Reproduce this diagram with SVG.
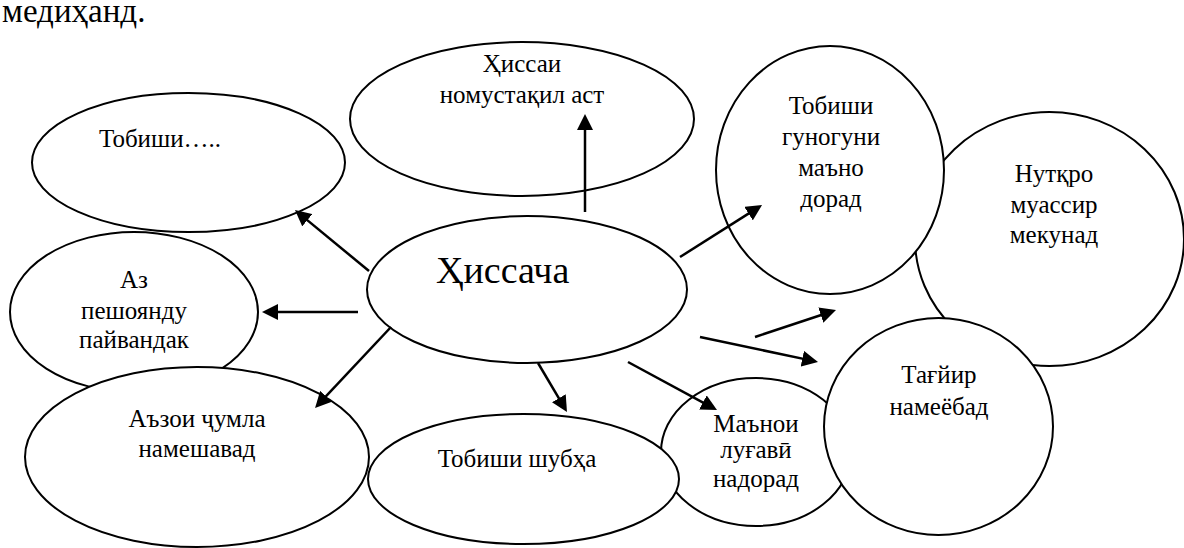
<svg xmlns="http://www.w3.org/2000/svg" width="1184" height="548" viewBox="0 0 1184 548">
<style>
.n{fill:#fff;stroke:#000;stroke-width:2}
text{font-family:"Liberation Serif","Times New Roman",serif;font-size:25px;fill:#000}
.m{text-anchor:middle}
.c line{stroke:#000;stroke-width:2.5;marker-end:url(#ah)}
</style>
<defs>
<marker id="ah" markerUnits="userSpaceOnUse" viewBox="0 0 16 16" markerWidth="16" markerHeight="16" refX="6" refY="8" orient="auto">
<path d="M0,0 L16,8 L0,16 z" fill="#000"/>
</marker>
</defs>
<rect width="1184" height="548" fill="#fff"/>
<text x="2" y="22" style="font-size:33px">медиҳанд.</text>
<g id="n-nutq"><ellipse class="n" cx="1049.5" cy="239" rx="134.5" ry="127"/><text class="m" x="1054" y="182">Нутқро</text><text class="m" x="1054" y="213">муассир</text><text class="m" x="1054" y="243">мекунад</text></g>
<g id="n-gunogun"><ellipse class="n" cx="830" cy="170" rx="114" ry="124"/><text class="m" x="831" y="114">Тобиши</text><text class="m" x="831" y="145">гуногуни</text><text class="m" x="831" y="176">маъно</text><text class="m" x="831" y="207">дорад</text></g>
<g id="n-manoi"><ellipse class="n" cx="756" cy="452" rx="95" ry="74"/><text class="m" x="756" y="432">Маънои</text><text class="m" x="756" y="458">луғавӣ</text><text class="m" x="756" y="487">надорад</text></g>
<g id="n-taghyir"><ellipse class="n" cx="938.5" cy="426.5" rx="114.5" ry="108.5"/><text class="m" x="939" y="383">Тағйир</text><text class="m" x="939" y="415">намеёбад</text></g>
<g id="n-shubha"><ellipse class="n" cx="523.5" cy="479" rx="155.5" ry="65"/><text class="m" x="517" y="467">Тобиши шубҳа</text></g>
<g id="n-tobishi"><ellipse class="n" cx="188.5" cy="162.5" rx="156.5" ry="69.5"/><text x="99" y="147">Тобиши…..</text></g>
<g id="n-hissai"><ellipse class="n" cx="522" cy="119" rx="172" ry="77"/><text class="m" x="522" y="72">Ҳиссаи</text><text class="m" x="522" y="103">номустақил аст</text></g>
<g id="n-az"><ellipse class="n" cx="134" cy="312" rx="124" ry="80"/><text class="m" x="134" y="288">Аз</text><text class="m" x="134" y="319">пешоянду</text><text class="m" x="134" y="348">пайвандак</text></g>
<g id="n-azoi"><ellipse class="n" cx="197" cy="457" rx="172" ry="90"/><text class="m" x="197" y="427">Аъзои ҷумла</text><text class="m" x="197" y="457">намешавад</text></g>
<g id="n-hissacha"><ellipse class="n" cx="527" cy="289.5" rx="160" ry="73.5"/><text x="436" y="283" style="font-size:38px">Ҳиссача</text></g>
<g class="c" id="connectors">
<line x1="369" y1="271" x2="302.7" y2="216.4"/>
<line x1="358" y1="312" x2="272" y2="312"/>
<line x1="391" y1="327" x2="321.9" y2="400.7"/>
<line x1="585" y1="212" x2="585" y2="124"/>
<line x1="680" y1="257" x2="753.6" y2="210.4"/>
<line x1="755" y1="337" x2="826.5" y2="313.2"/>
<line x1="700" y1="337" x2="808.2" y2="359.9"/>
<line x1="628" y1="362" x2="708.2" y2="405.3"/>
<line x1="538" y1="363" x2="561.9" y2="403.4"/>
</g>
</svg>
